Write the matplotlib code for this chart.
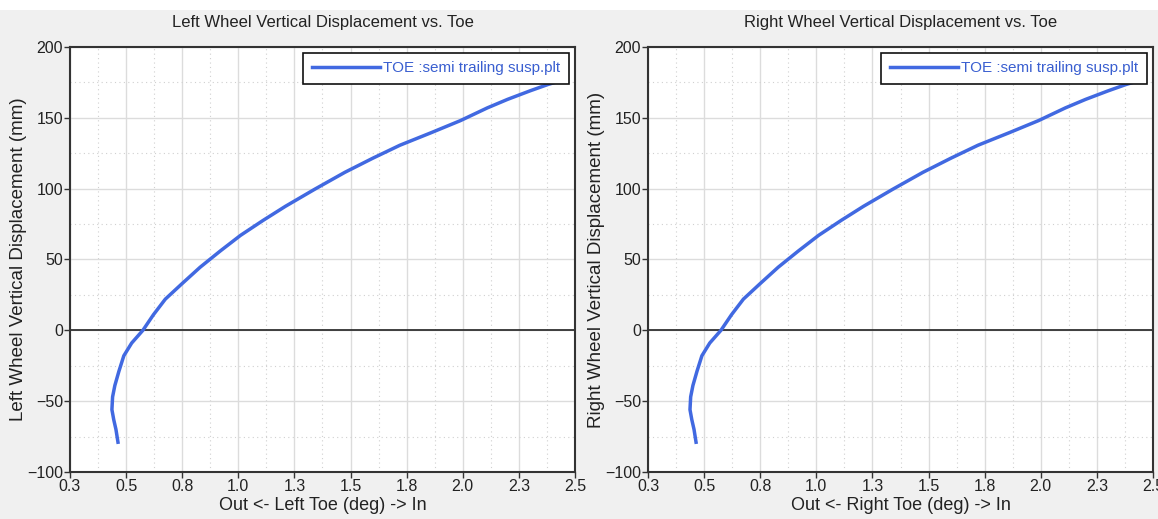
import numpy as np
import matplotlib.pyplot as plt
from matplotlib.ticker import MultipleLocator

plt.rcParams['font.family'] = ['Liberation Sans', 'DejaVu Sans']

# curve (toe deg, vertical displacement mm)
toe = [0.464, 0.455, 0.445, 0.437, 0.440, 0.450, 0.468, 0.490, 0.525, 0.575,
       0.622, 0.675, 0.750, 0.830, 0.920, 1.010, 1.110, 1.210, 1.340, 1.475,
       1.600, 1.720, 1.860, 1.990, 2.110, 2.200, 2.300, 2.380, 2.455]
disp = [-79, -70, -63, -56, -47, -39, -29, -18, -9, 0,
        11, 22, 33, 44.5, 56, 67, 77.5, 87.5, 99.5, 111.5,
        121.5, 130.6, 139.5, 148, 157, 163, 169, 173.5, 177]

xticks = [0.25, 0.5, 0.75, 1.0, 1.25, 1.5, 1.75, 2.0, 2.25, 2.5]
xticklabels = ['0.3', '0.5', '0.8', '1.0', '1.3', '1.5', '1.8', '2.0', '2.3', '2.5']
yticks = [-100, -50, 0, 50, 100, 150, 200]

titles = ['Left Wheel Vertical Displacement vs. Toe', 'Right Wheel Vertical Displacement vs. Toe']
ylabels = ['Left Wheel Vertical Displacement (mm)', 'Right Wheel Vertical Displacement (mm)']
xlabels = ['Out <- Left Toe (deg) -> In', 'Out <- Right Toe (deg) -> In']
legend_label = 'TOE :semi trailing susp.plt'

fig = plt.figure(figsize=(11.58, 5.19), dpi=100, facecolor='#f0f0f0')
fig.patches.append(plt.Rectangle((0, 0.98), 1, 0.02, transform=fig.transFigure,
                                 facecolor='white', edgecolor='none'))

lefts = [0.0604, 0.5596]
for i in range(2):
    ax = fig.add_axes([lefts[i], 0.0906, 0.4361, 0.819])
    ax.set_facecolor('white')
    ax.plot(toe, disp, color='#4169e1', lw=2.5, label=legend_label, zorder=3)
    ax.axhline(0, color='#222222', lw=1.2, zorder=2)
    ax.set_xlim(0.25, 2.5)
    ax.set_ylim(-100, 200)
    ax.set_xticks(xticks)
    ax.set_xticklabels(xticklabels)
    ax.set_yticks(yticks)
    ax.xaxis.set_minor_locator(MultipleLocator(0.125))
    ax.yaxis.set_minor_locator(MultipleLocator(25))
    ax.grid(which='major', color='#dcdcdc', lw=1.0)
    ax.grid(which='minor', color='#d0d0d0', lw=0.8, linestyle=(0, (1, 3)))
    ax.tick_params(which='major', length=4, width=1, color='#333333', labelsize=11.5,
                   labelcolor='#222222', pad=1)
    ax.tick_params(which='minor', length=0)
    for s in ax.spines.values():
        s.set_color('#333333')
        s.set_linewidth(1.5)
    ax.set_title(titles[i], fontsize=12, color='#222222', pad=14)
    ax.set_xlabel(xlabels[i], fontsize=13, color='#222222', labelpad=2)
    ax.set_ylabel(ylabels[i], fontsize=13.5, color='#222222')
    ax.yaxis.set_label_coords(-0.085, 0.5)
    leg = ax.legend(loc='upper right', fontsize=11, frameon=True, fancybox=False,
                    handlelength=4.5, borderaxespad=0.4, borderpad=0.55, handletextpad=0.2)
    leg.get_frame().set_edgecolor('#111111')
    leg.get_frame().set_linewidth(1.2)
    leg.get_frame().set_alpha(1)
    for t in leg.get_texts():
        t.set_color('#3a5fd0')
    leg.set_zorder(5)

fig.savefig('out.png', dpi=100, facecolor=fig.get_facecolor())
